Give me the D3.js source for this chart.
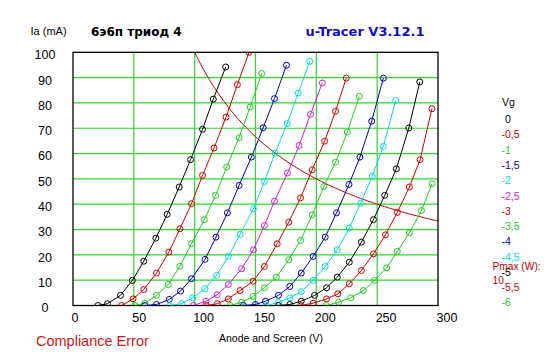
<!DOCTYPE html>
<html><head><meta charset="utf-8">
<script src="https://cdn.jsdelivr.net/npm/d3@7"></script>
<style>
html,body{margin:0;padding:0;background:#fff;}
svg{display:block;}
text{font-family:"Liberation Sans",Arial,sans-serif;}
</style></head>
<body><svg id="c" width="547" height="357"></svg>
<script>
// ---- data ----
const vgLabels = ["0","-0,5","-1","-1,5","-2","-2,5","-3","-3,5","-4","-4,5","-5","-5,5","-6"];
const curveColors = ["#000000","#d00000","#22cc22","#0000b0","#00dcdc","#cc22cc","#d00000","#22cc22","#0000b0","#00dcdc","#000000","#d00000","#22cc22"];
const xTicks = [0,50,100,150,200,250,300];
const yTicks = [0,10,20,30,40,50,60,70,80,90,100];
const pmaxW = 10;

const v0 = [20.5,28.3,39,48.8,58.2,68.1,77.4,87.3,96.6,106.5,115.3,125.5];
const i0 = [0,0.7,4,9.9,17.5,26.6,36,46.8,57.6,69.6,81.5,94.2];
const v1 = [39.8,49.4,58.2,68.6,78.8,87.9,97.4,106.5,115.9,125.8,135.1,144.7];
const i1 = [0,2.6,6.3,12.8,21.1,30.3,40.2,51.4,62.2,74.4,87.2,100];
const v2 = [50.8,59.1,68.6,78.3,87.9,97.4,107.9,117.2,126.3,136.5,145.6,155.1];
const i2 = [0,0.9,4,8.3,15.5,24.4,33.9,43.5,54.7,66.3,78.4,91.6];
const v3 = [59,68.6,79.1,88.4,97.4,108.5,117.5,126.9,136.5,146.6,156.3,165.6,175.5];
const i3 = [0,0.4,2.4,5.7,10.6,18.2,27,36.6,47.4,58.6,70.2,81.7,94.9];
const v4 = [79.6,89.2,98.3,108.5,118,127.7,137.3,148.3,157.3,166.1,176,185.1,194.6];
const i4 = [0,0.7,3,6.6,11.9,19.4,28.1,38.2,49,60.2,71.8,83.9,96.4];
const v5 = [98.8,109.3,118.6,127.7,138.6,148.3,157.3,165.6,176.3,185.9,195.2,204.9];
const i5 = [0,1.7,4.3,8.3,14.5,22,31.6,41.2,52.3,63.2,75.5,87.9];
const v6 = [109.6,118.6,127.7,137.3,148,157.3,167.8,177.3,187,196.6,206.8,215.8,224.6];
const i6 = [0,0.7,2.6,5.9,9.6,15.4,24.4,32.9,42.5,53.6,64.9,76.7,89.8];
const v7 = [129.1,138.6,148,157.3,167.2,177.3,187,196.6,206.2,215.8,225.5,235.3];
const i7 = [0,1.3,3.6,7,11.2,18.1,25.7,35.8,47,56.6,68.5,82.6];
const v8 = [140,149.9,158.2,168.9,178.2,187.6,197.4,207.3,216.6,226.8,235.8,245.5,255.1];
const i8 = [0,0.4,1.7,4,7.5,12.8,19.4,27,36.6,47.8,58.6,72.8,89.8];
const v9 = [159,168.9,178.2,187.6,197.4,207.3,217.2,227.1,236.4,246,255.1,265.2];
const i9 = [0,1.3,3,5.5,9.9,15.4,22,30.6,40.4,51.1,62.8,81];
const v10 = [168.9,178.2,187.6,198.5,208.4,217.2,227.1,237,246.9,256.2,265.8,276,285];
const i10 = [0,0.4,1.7,4,7,11.2,17.1,25,33.9,43.5,54,70.1,88.3];
const v11 = [187,197.4,208.4,217.7,227.1,237,246.9,256.8,266.6,276.5,285.3,295];
const i11 = [0,0.9,2.6,4.6,8.6,13.8,20.4,27.9,36.8,46.8,57.6,77.7];
const v12 = [208.4,218.3,228.2,238.6,247.9,257.8,266.6,276.5,286.4,295.1];
const i12 = [0,1.3,3,5.9,9.9,14.9,21.4,28.7,37.5,48.1];

const voltages = [v0,v1,v2,v3,v4,v5,v6,v7,v8,v9,v10,v11,v12];
const currents = [i0,i1,i2,i3,i4,i5,i6,i7,i8,i9,i10,i11,i12];

// ---- chart ----
const svg = d3.select("#c");
const L = 73, R = 438, T = 52.3, B = 305.5;
const x = d3.scaleLinear().domain([0,300]).range([L,R]);
const y = d3.scaleLinear().domain([0,100]).range([B,T]);

svg.append("defs").append("clipPath").attr("id","clip")
  .append("rect").attr("x",L).attr("y",T).attr("width",R-L).attr("height",B-T);

// grid
const grid = svg.append("g").attr("stroke","#33d433").attr("stroke-width",1.2);
xTicks.slice(1,-1).forEach(t=>grid.append("line").attr("x1",x(t)).attr("x2",x(t)).attr("y1",T).attr("y2",B));
yTicks.slice(1,-1).forEach(t=>grid.append("line").attr("y1",y(t)).attr("y2",y(t)).attr("x1",L).attr("x2",R));

// axes labels
const xa = svg.append("g").attr("transform",`translate(0,${B})`)
  .call(d3.axisBottom(x).tickValues(xTicks).tickSize(0).tickFormat(d3.format("d")));
xa.select(".domain").remove();
xa.selectAll("text").attr("text-anchor","start").attr("dx",-2).attr("dy",0).attr("y",16.3)
  .style("font-size","12.5px").style("font-family","'Liberation Sans', Arial").attr("fill","#000");

const ya = svg.append("g").attr("transform",`translate(${L},0)`)
  .call(d3.axisLeft(y).tickValues(yTicks).tickSize(0).tickFormat(d3.format("d")));
ya.select(".domain").remove();
ya.selectAll("text").attr("text-anchor","middle").attr("x",-28).attr("dy",0).attr("y",6.4)
  .style("font-size","12.5px").style("font-family","'Liberation Sans', Arial").attr("fill","#000");

// border
svg.append("rect").attr("x",L).attr("y",T).attr("width",R-L).attr("height",B-T)
  .attr("fill","none").attr("stroke","#000").attr("stroke-width",1.3);

const plot = svg.append("g").attr("clip-path","url(#clip)");

// Pmax hyperbola
const pmaxV = d3.range(100, 301, 2);
const line = d3.line().x(d=>x(d[0])).y(d=>y(d[1]));
plot.append("path").datum(pmaxV.map(v=>[v, pmaxW*1000/v]))
  .attr("d",line).attr("fill","none").attr("stroke","#b80000").attr("stroke-width",1);

// curves
voltages.forEach((vs,k)=>{
  const pts = vs.map((v,j)=>[v,currents[k][j]]);
  const g = plot.append("g");
  g.append("path").datum(pts).attr("d",line).attr("fill","none")
    .attr("stroke",curveColors[k]).attr("stroke-width",1);
  g.selectAll("circle").data(pts).join("circle")
    .attr("cx",d=>x(d[0])).attr("cy",d=>y(d[1])).attr("r",3)
    .attr("fill","none").attr("stroke",curveColors[k]).attr("stroke-width",1);
});

// legend
svg.append("text").attr("x",502).attr("y",106).style("font-size","10.5px").attr("fill","#000").text("Vg");
vgLabels.forEach((lab,k)=>{
  svg.append("text").attr("x", lab.startsWith("-")?501.5:505).attr("y",119.3+15.28*k+3.8)
    .style("font-size","10.5px").attr("fill",curveColors[k]).text(lab);
});
svg.append("text").attr("x",492.5).attr("y",269.8).style("font-size","10.2px").attr("fill","#b80000").text("Pmax (W):");
svg.append("text").attr("x",492.5).attr("y",283.8).style("font-size","10.2px").attr("fill","#b80000").text(String(pmaxW));

// titles
svg.append("text").attr("x",30.5).attr("y",35).style("font-size","11px").attr("fill","#000").text("Ia (mA)");
svg.append("text").attr("x",91).attr("y",36).style("font-size","12px").style("font-weight","bold")
  .style("font-family","'DejaVu Sans'").attr("fill","#000").text("6э6п триод 4");
svg.append("text").attr("x",305.5).attr("y",35.7).style("font-size","13px").style("font-weight","bold")
  .style("font-family","'DejaVu Sans'").attr("fill","#1010c0").text("u-Tracer V3.12.1");
svg.append("text").attr("x",219).attr("y",341.7).style("font-size","10.5px").attr("fill","#000").text("Anode and Screen (V)");
svg.append("text").attr("x",36).attr("y",346).style("font-size","14.5px").attr("fill","#d01818").text("Compliance Error");
</script></body></html>
